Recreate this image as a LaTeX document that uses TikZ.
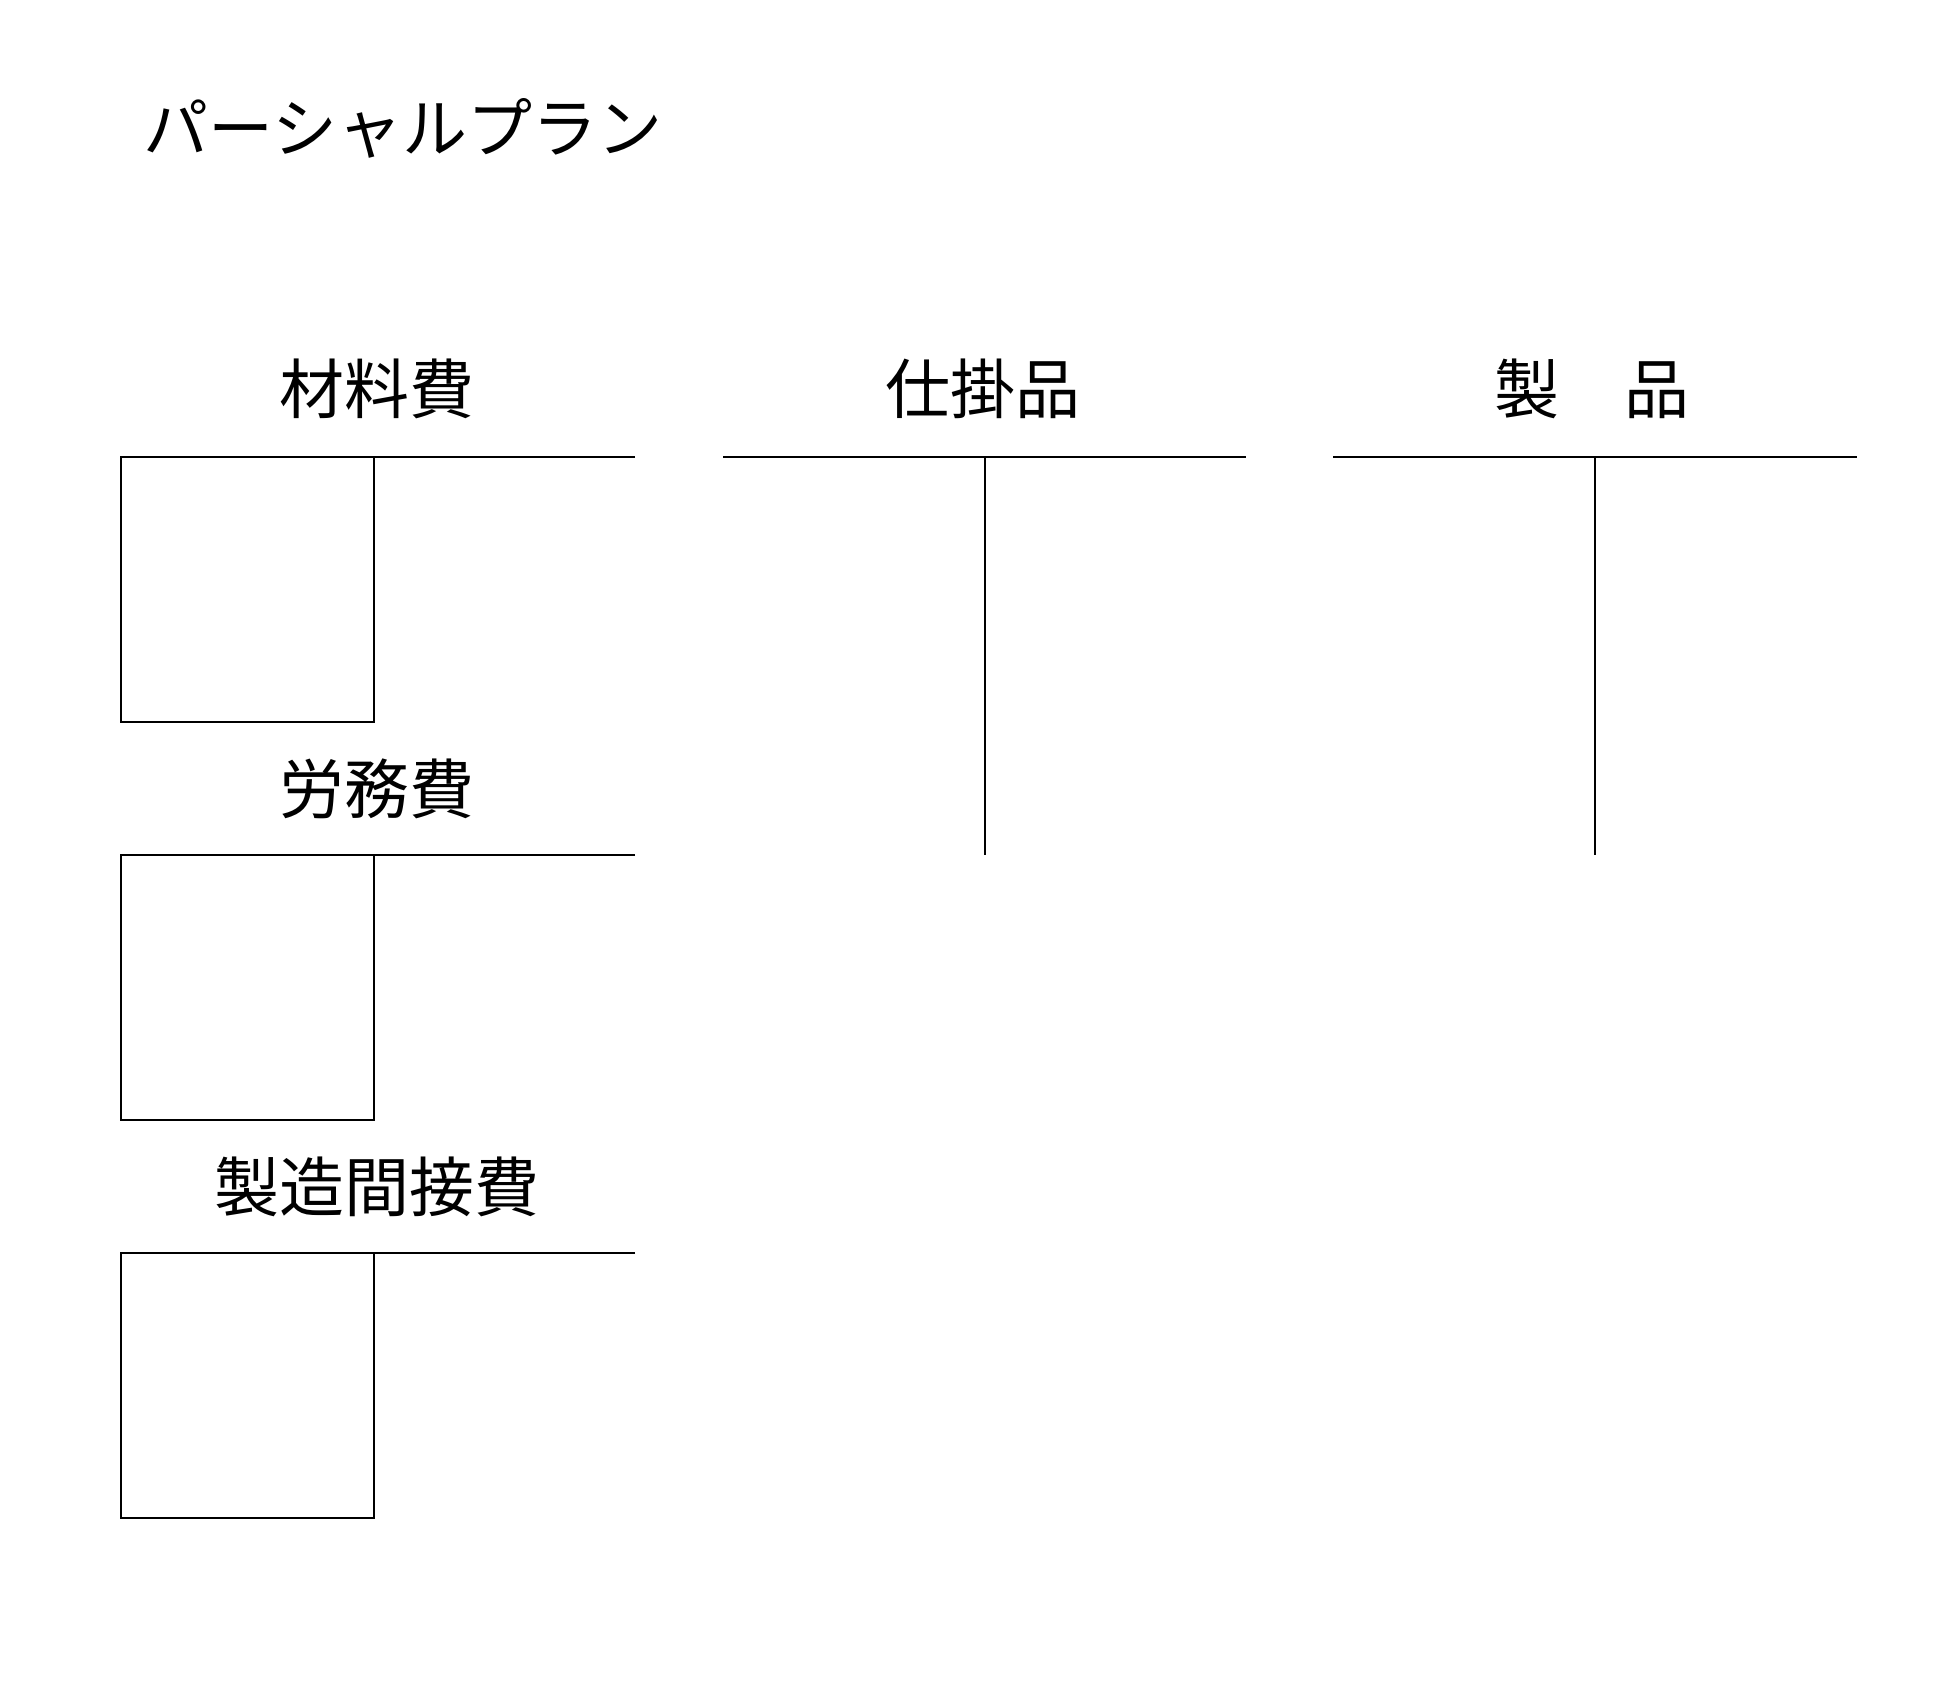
\documentclass[tikz,border=0pt]{standalone}
\usepackage{fontspec}
\newfontfamily\jp{Noto Sans CJK JP}
\begin{document}
\begin{tikzpicture}[x=0.5pt,y=-0.5pt,
  ttl/.style={font=\jp\fontsize{32.5pt}{38pt}\selectfont, inner sep=0pt},
  acct/.style={line width=1.1pt, black}]
\path[use as bounding box, fill=white] (0,0) rectangle (1949,1701);
\node[ttl, anchor=west] (plan) at (143,128) {パーシャルプラン};
% left column
\node[ttl] (zai) at (377,389) {材料費};
\node[ttl] (rou) at (377,789) {労務費};
\node[ttl] (sei) at (377,1187) {製造間接費};
\foreach \t/\b in {457/722, 855/1120, 1253/1518}{
  \draw[acct] (635,\t) -- (121,\t) -- (121,\b) -- (374,\b) -- (374,\t);
}
% T accounts
\node[ttl] (shi) at (983,389) {仕掛品};
\node[ttl] (prod) at (1592,389) {製　品};
\draw[acct] (723,457) -- (1246,457);
\draw[acct] (985,457) -- (985,855);
\draw[acct] (1333,457) -- (1857,457);
\draw[acct] (1595,457) -- (1595,855);
\end{tikzpicture}
\end{document}
